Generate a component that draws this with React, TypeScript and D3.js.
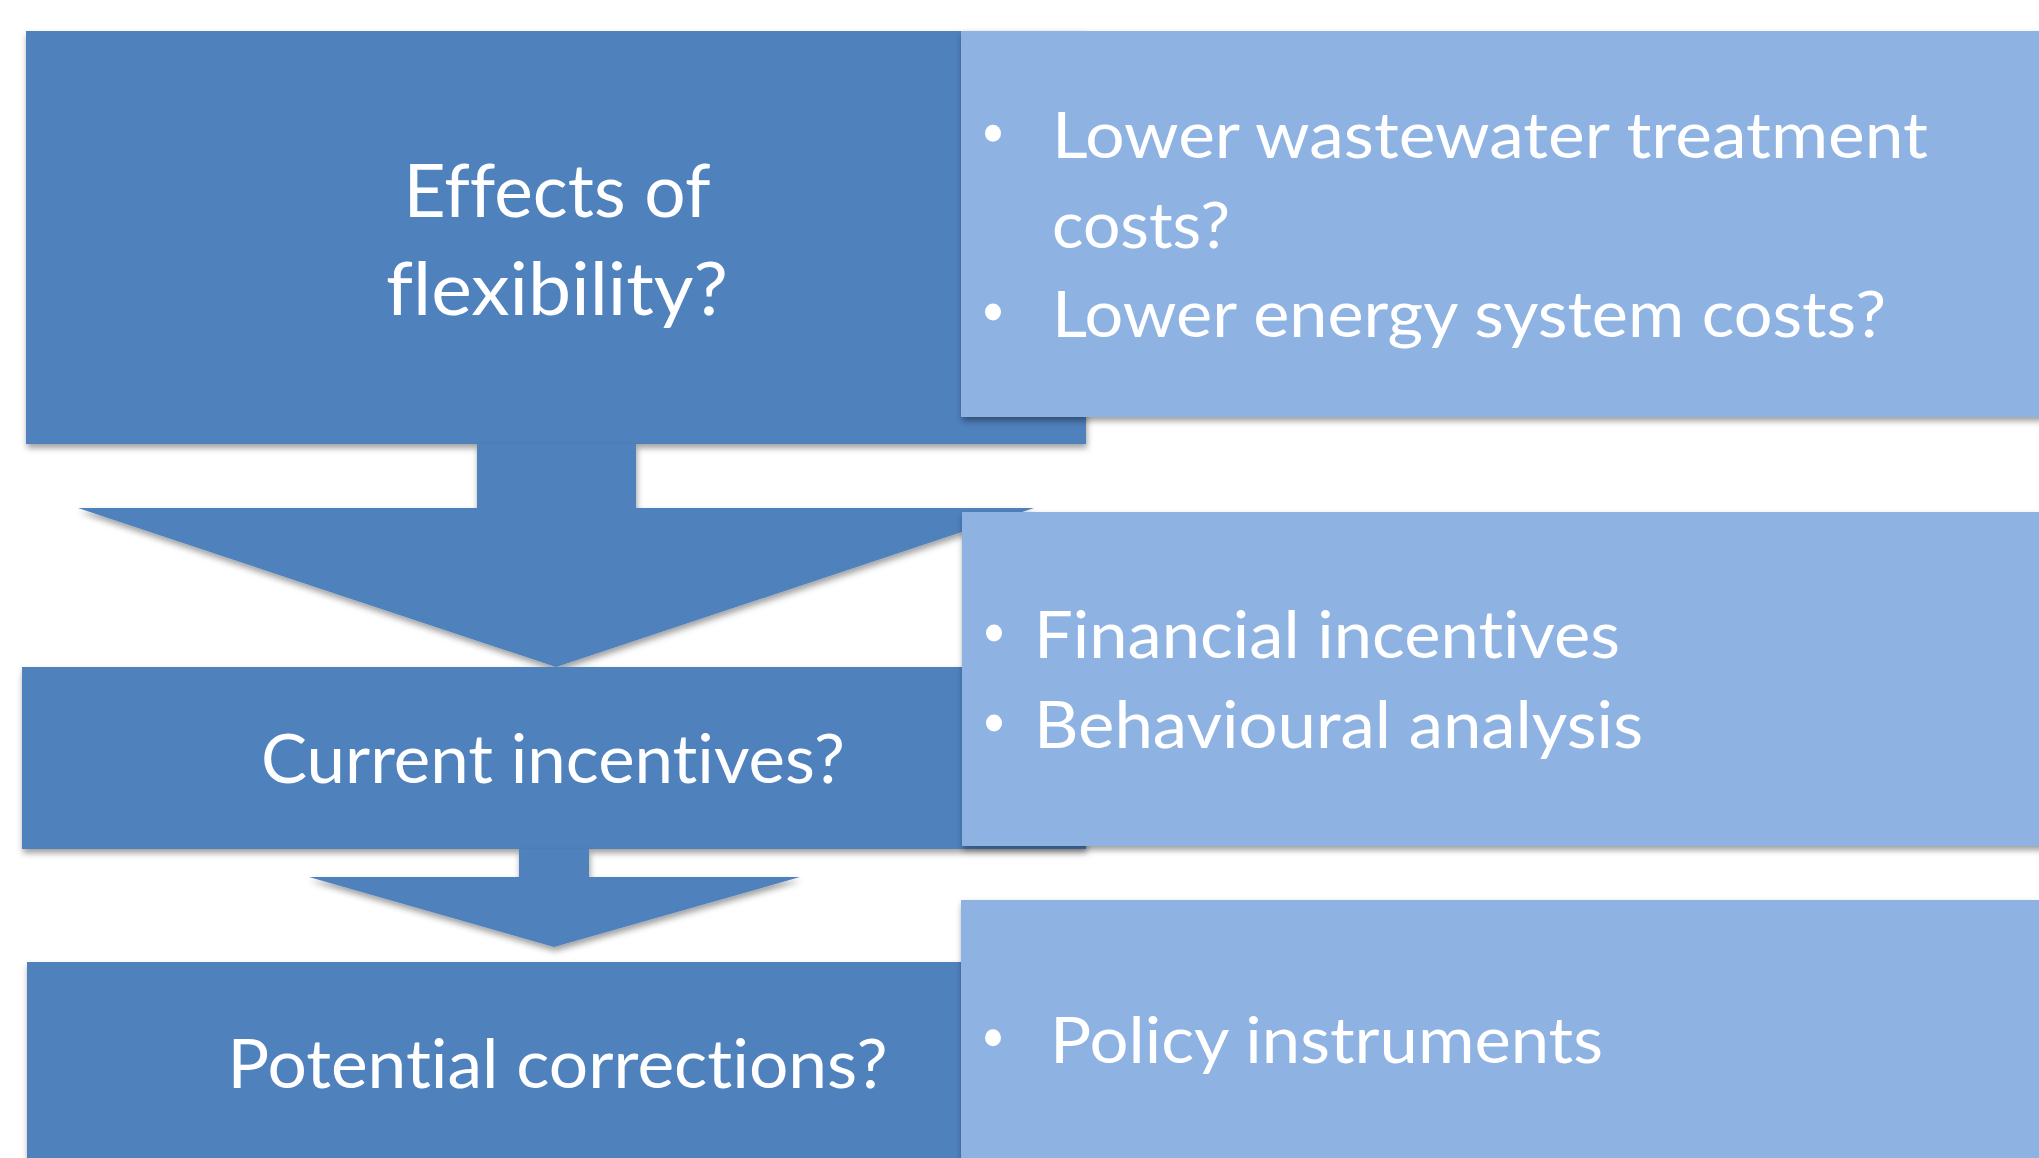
import React from "react";
import * as d3 from "d3";

// ---- content ----
const stepLines: string[][] = [
  ["Effects of", "flexibility?"],
  ["Current incentives?"],
  ["Potential corrections?"],
];
const detailItems: string[][][] = [
  [["Lower wastewater treatment", "costs?"], ["Lower energy system costs?"]],
  [["Financial incentives"], ["Behavioural analysis"]],
  [["Policy instruments"]],
];

// ---- layout (pixels) ----
const W = 2039;
const H = 1158;
const DARK = "#4F81BD";
const LIGHT = "#8EB3E2";
const FONT = "Lato, 'Open Sans', 'DejaVu Sans', sans-serif";

const darkBoxes = [
  { x: 26, y: 31, w: 1060, h: 413 },
  { x: 22, y: 667, w: 1064, h: 182 },
  { x: 27, y: 962, w: 1059, h: 260 },
];
const lightBoxes = [
  { x: 961, y: 31, w: 1120, h: 386 },
  { x: 962, y: 512, w: 1120, h: 334 },
  { x: 961, y: 900, w: 1120, h: 300 },
];
const arrows = [
  { sL: 477, sR: 636, top: 444, hy: 508, hL: 78, hR: 1034, tx: 556, ty: 667 },
  { sL: 519, sR: 589, top: 849, hy: 877, hL: 309, hR: 800, tx: 554, ty: 947 },
];
const stepText = [
  { cx: 557, base: [216.5, 314.7], size: 74, len: [307, 342] },
  { cx: 553, base: [782.7], size: 67, len: [584] },
  { cx: 557.5, base: [1088], size: 67, len: [660] },
];
const detailText = [
  { bx: 993, tx: 1052, base: [[158.3, 248], [337]], size: 64, len: [[876, 178], [834]] },
  { bx: 994, tx: 1034, base: [[658], [748]], size: 65, len: [[586], [609]] },
  { bx: 993, tx: 1050, base: [[1062.7]], size: 64, len: [[553]] },
];

const line = d3.line<[number, number]>();

function arrowPath(a: typeof arrows[number]) {
  const pts: [number, number][] = [
    [a.sL, a.top],
    [a.sR, a.top],
    [a.sR, a.hy],
    [a.hR, a.hy],
    [a.tx, a.ty],
    [a.hL, a.hy],
    [a.sL, a.hy],
  ];
  return line(pts) + "Z";
}

const textStyle: React.CSSProperties = {
  fontVariantLigatures: "none",
  fontFeatureSettings: '"liga" 0, "clig" 0, "dlig" 0',
};

export default function App() {
  return (
    <svg
      width={W}
      height={H}
      viewBox={`0 0 ${W} ${H}`}
      style={{ position: "absolute", left: 0, top: 0, background: "#fff" }}
    >
      <defs>
        <filter id="sh" x="-5%" y="-5%" width="110%" height="120%">
          <feDropShadow dx="1" dy="4" stdDeviation="3" floodColor="#000" floodOpacity="0.38" />
        </filter>
      </defs>
      <rect x={0} y={0} width={W} height={H} fill="#fff" />

      {/* dark step boxes and arrows */}
      <rect {...{ x: darkBoxes[0].x, y: darkBoxes[0].y, width: darkBoxes[0].w, height: darkBoxes[0].h }} fill={DARK} filter="url(#sh)" />
      <path d={arrowPath(arrows[0])} fill={DARK} filter="url(#sh)" />
      <rect {...{ x: darkBoxes[1].x, y: darkBoxes[1].y, width: darkBoxes[1].w, height: darkBoxes[1].h }} fill={DARK} filter="url(#sh)" />
      <path d={arrowPath(arrows[1])} fill={DARK} filter="url(#sh)" />
      <rect {...{ x: darkBoxes[2].x, y: darkBoxes[2].y, width: darkBoxes[2].w, height: darkBoxes[2].h }} fill={DARK} filter="url(#sh)" />

      {/* step labels */}
      {stepLines.map((lines, i) =>
        lines.map((t, j) => (
          <text
            key={`s${i}-${j}`}
            x={stepText[i].cx}
            y={stepText[i].base[j]}
            textAnchor="middle"
            fontFamily={FONT}
            fontSize={stepText[i].size}
            fill="#fff"
            style={textStyle}
            textLength={stepText[i].len[j]}
            lengthAdjust="spacingAndGlyphs"
          >
            {t}
          </text>
        ))
      )}

      {/* light detail boxes */}
      {lightBoxes.map((b, i) => (
        <rect key={`l${i}`} x={b.x} y={b.y} width={b.w} height={b.h} fill={LIGHT} filter="url(#sh)" />
      ))}

      {/* bullet items */}
      {detailItems.map((items, i) =>
        items.map((lines, k) => (
          <g key={`d${i}-${k}`}>
            <ellipse
              cx={detailText[i].bx}
              cy={detailText[i].base[k][0] - 25}
              rx={8}
              ry={8.5}
              fill="#fff"
            />
            {lines.map((t, j) => (
              <text
                key={j}
                x={detailText[i].tx}
                y={detailText[i].base[k][j]}
                fontFamily={FONT}
                fontSize={detailText[i].size}
                fill="#fff"
                style={textStyle}
                textLength={detailText[i].len[k][j]}
                lengthAdjust="spacingAndGlyphs"
              >
                {t}
              </text>
            ))}
          </g>
        ))
      )}
    </svg>
  );
}
